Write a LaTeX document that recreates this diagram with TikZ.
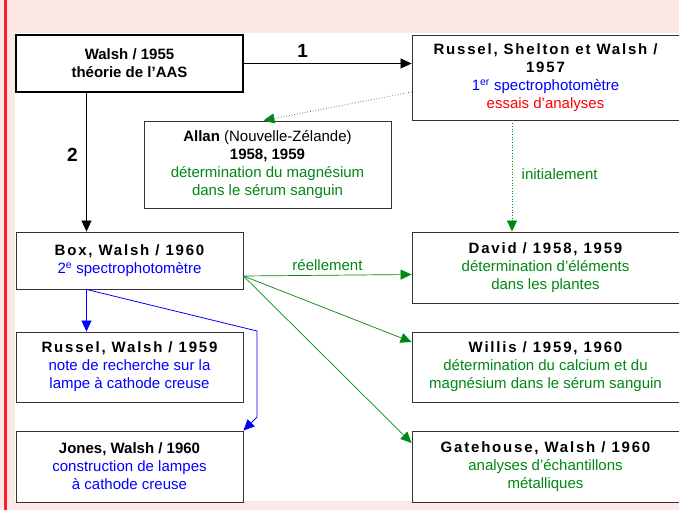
\documentclass[tikz,border=0pt]{standalone}
\usepackage{fontspec}
\setmainfont{Liberation Sans}
\newfontfamily\spacedfont[LetterSpace=12]{Liberation Sans}
\usetikzlibrary{arrows.meta}

\definecolor{bgpink}{RGB}{253,232,232}
\definecolor{edgered}{RGB}{255,30,40}
\definecolor{txtgreen}{RGB}{0,135,20}
\definecolor{txtblue}{RGB}{0,0,255}
\definecolor{txtred}{RGB}{255,0,0}

\newcommand{\hd}[1]{{\spacedfont\bfseries #1}}

\begin{document}
\begin{tikzpicture}[x=1pt, y=-1pt,
    every node/.style={font=\fontsize{15}{18}\selectfont},
    refbox/.style={draw=black!80, line width=0.9pt, fill=white, align=center, inner sep=0pt},
    leftbox/.style={refbox, minimum width=227pt},
    rightbox/.style={refbox, minimum width=267pt},
    tip/.style={-{Triangle[length=11pt, width=10pt]}},
    mainarrow/.style={tip, line width=0.8pt, black},
    greenarrow/.style={tip, line width=0.7pt, txtgreen},
    greendots/.style={tip, line width=0.7pt, txtgreen, dotted},
    bluearrow/.style={tip, line width=0.8pt, txtblue},
    steplabel/.style={font=\fontsize{19}{20}\selectfont\bfseries},
    linklabel/.style={text=txtgreen}]

    % background
    \useasboundingbox (0,0) rectangle (679,510);
    \fill[bgpink] (0,0) rectangle (679,510);
    \fill[white] (15,33) rectangle (679,501);
    \fill[edgered] (3.5,0) rectangle (6.5,510);

    % Walsh 1955
    \node[leftbox, line width=1.8pt, draw=black, minimum height=57pt] (walsh) at (129.5,63.5)
        {\textbf{Walsh / 1955}\\\textbf{théorie de l’AAS}};

    % Russel, Shelton et Walsh
    \node[rightbox, minimum height=85pt] (rsw) at (545.5,77.5)
        {\hd{Russel, Shelton et Walsh /}\\\hd{1957}\\
         \textcolor{txtblue}{1\textsuperscript{er} spectrophotomètre}\\
         \textcolor{txtred}{essais d’analyses}};

    % Allan
    \node[refbox, minimum width=247pt, minimum height=87pt] (allan) at (267.5,164.5)
        {\textbf{Allan} (Nouvelle-Zélande)\\\textbf{1958, 1959}\\
         \textcolor{txtgreen}{détermination du magnésium}\\
         \textcolor{txtgreen}{dans le sérum sanguin}};

    % Box, Walsh 1960
    \node[leftbox, minimum height=57pt] (box) at (129.5,260.5)
        {\hd{Box, Walsh / 1960}\\\textcolor{txtblue}{2\textsuperscript{e} spectrophotomètre}};

    % David
    \node[rightbox, minimum height=71pt] (david) at (545.5,267.5)
        {\hd{David / 1958, 1959}\\
         \textcolor{txtgreen}{détermination d’éléments}\\
         \textcolor{txtgreen}{dans les plantes}};

    % Russel, Walsh 1959
    \node[leftbox, minimum height=70pt] (russel) at (129.5,367)
        {\hd{Russel, Walsh / 1959}\\
         \textcolor{txtblue}{note de recherche sur la}\\
         \textcolor{txtblue}{lampe à cathode creuse}};

    % Jones, Walsh 1960
    \node[leftbox, minimum height=71pt] (jones) at (129.5,466.5)
        {\textbf{Jones, Walsh / 1960}\\
         \textcolor{txtblue}{construction de lampes}\\
         \textcolor{txtblue}{à cathode creuse}};

    % Willis
    \node[rightbox, minimum height=70pt] (willis) at (545.5,367)
        {\hd{Willis / 1959, 1960}\\
         \textcolor{txtgreen}{détermination du calcium et du}\\
         \textcolor{txtgreen}{magnésium dans le sérum sanguin}};

    % Gatehouse, Walsh 1960
    \node[rightbox, minimum height=71pt] (gate) at (545.5,466.5)
        {\hd{Gatehouse, Walsh / 1960}\\
         \textcolor{txtgreen}{analyses d’échantillons}\\
         \textcolor{txtgreen}{métalliques}};

    % Arrows from Walsh 1955
    \draw[mainarrow] (walsh.east) -- (rsw.west |- walsh.east)
        node[steplabel, midway, above=2pt, xshift=-25pt] (one) {1};
    \draw[mainarrow] ([xshift=-43pt]walsh.south) -- ([xshift=-43pt]box.north)
        node[steplabel, midway, left=5pt, yshift=7pt] (two) {2};

    % Dotted paths from the first spectrophotometer
    \draw[greendots] ([yshift=-14.5pt]rsw.west) -- ([xshift=-4pt]allan.north);
    \draw[greendots] ([xshift=-33.5pt]rsw.south) -- ([xshift=-33.5pt]david.north)
        node[linklabel, midway, right=6pt, yshift=2pt] (first) {initialement};

    % Green fan from Box, Walsh
    \coordinate (fan) at ([yshift=-15.5pt]box.east);
    \draw[greenarrow] (fan) -- ([yshift=-7pt]david.west)
        node[linklabel, midway, above=1pt] (real) {réellement};
    \draw[greenarrow] (fan) -- ([yshift=25pt]willis.west);
    \draw[greenarrow] (fan) -- ([yshift=23.5pt]gate.west);

    % Blue paths to the lamp papers
    \coordinate (bendtop) at (257,331);
    \coordinate (bendlow) at (257,417);
    \draw[bluearrow] ([xshift=-43pt]box.south) -- ([xshift=-43pt]russel.north);
    \draw[bluearrow] ([xshift=-43pt]box.south) -- (bendtop) -- (bendlow) -- (jones.north east);

\end{tikzpicture}
\end{document}
